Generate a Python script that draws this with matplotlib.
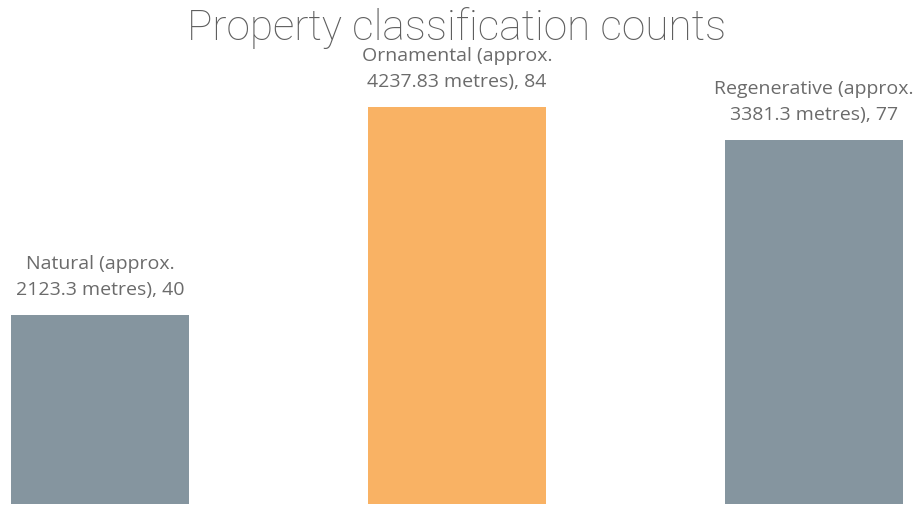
import matplotlib
matplotlib.use("Agg")
import matplotlib.pyplot as plt

categories = ["Natural", "Ornamental", "Regenerative"]
lengths = ["2123.3", "4237.83", "3381.3"]
counts = [40, 84, 77]
colors = ["#85959f", "#f9b264", "#85959f"]

fig = plt.figure(figsize=(9.14, 5.06), dpi=100)
ax = fig.add_axes([0, 1 / 506, 1, 505 / 506])

x = range(len(categories))
bars = ax.bar(x, counts, width=0.5, color=colors)
ax.set_xlim(-0.28, 2.28)
ax.set_ylim(0, 106.8)
ax.axis("off")

for b, cat, ln, c in zip(bars, categories, lengths, counts):
    label = f"{cat} (approx.\n{ln} metres), {c}"
    ax.annotate(label, (b.get_x() + b.get_width() / 2, b.get_height()),
                xytext=(0, 12), textcoords="offset points",
                ha="center", va="bottom", fontsize=14, color="#6b6b6b",
                family="Open Sans", linespacing=1.6)

fig.text(0.5, 0.945, "Property classification counts", ha="center", va="center",
         fontsize=30.5, color="#5f5f5f", family="Roboto", fontweight="light")

fig.savefig("out.png", dpi=100)
